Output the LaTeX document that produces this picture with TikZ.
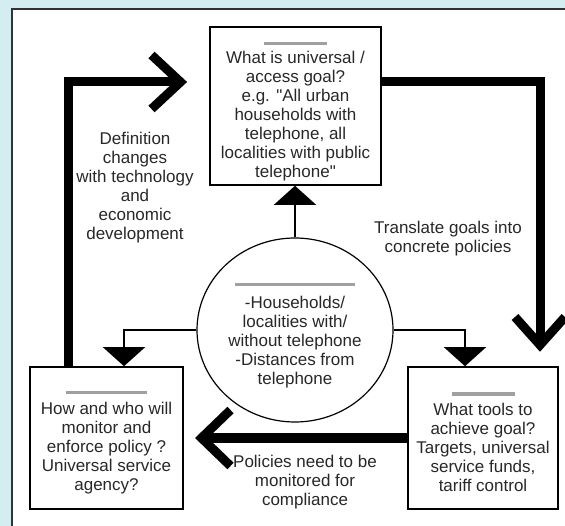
\documentclass[tikz,border=0pt]{standalone}
\usepackage{fontspec}
\setmainfont{Liberation Sans}[Ligatures=TeXOff]
\usetikzlibrary{arrows.meta,shapes.geometric,calc}
\definecolor{bgcyan}{RGB}{212,237,240}
\definecolor{barcol}{RGB}{160,160,160}
\definecolor{txt}{RGB}{40,40,40}
\newcommand{\gbar}[2]{\textcolor{barcol}{\rule{#1pt}{3.5pt}}\rule{0pt}{#2pt}}
\begin{document}
\begin{tikzpicture}[x=1pt,y=-1pt,
  box/.style={draw, line width=1.6pt, fill=white, align=center, inner sep=0pt,
    font=\fontsize{17}{19}\selectfont, text=txt},
  lbl/.style={align=center, inner sep=0pt, font=\fontsize{17}{19}\selectfont, text=txt},
  link/.style={line width=1.5pt, -{Triangle[width=42pt,length=19pt]}},
  heavy/.style={line width=9pt, line join=miter},
  chev/.style={line width=9pt, line join=miter, line cap=butt}]

\fill[bgcyan] (0,0) rectangle (565,526);
\useasboundingbox (0,0) rectangle (565,526);
\fill[white] (12,9) rectangle (565,526);
\draw[line width=2pt, black!80] (12,526) -- (12,9) -- (565,9);

% nodes
\node[box, minimum width=171pt, minimum height=158pt] (goal) at (295.5,106)
  {\gbar{63}{13.6}\\[-1pt] What is universal /\\ access goal?\\ e.g. "All urban\\ households with\\ telephone, all\\ localities with public\\ telephone"};

\node[box, ellipse, line width=1.2pt, minimum width=196pt, minimum height=184pt] (data) at (295,330)
  {\gbar{120}{13.6}\\[3pt] -Households/\\ localities with/\\ without telephone\\ -Distances from\\ telephone};

\node[box, minimum width=153pt, minimum height=142pt] (mon) at (106.5,438)
  {\gbar{81}{11.6}\\[1pt] How and who will\\ monitor and\\ enforce policy ?\\ Universal service\\ agency?};

\node[box, minimum width=150pt, minimum height=142pt] (tools) at (483,438)
  {\gbar{63}{11.6}\\[1pt] What tools to\\ achieve goal?\\ Targets, universal\\ service funds,\\ tariff control};

% thin connectors from the data circle
\draw[link] (data.north) -- (data.north |- goal.south);
\draw[link] (data.west) -| ([xshift=17.5pt]mon.north);
\draw[link] (data.east) -| ([xshift=-18pt]tools.north);

% heavy cycle arrows
\coordinate (ltip) at (180.5,82);
\draw[heavy] ([xshift=-38.5pt]mon.north) |- (ltip);
\draw[chev] ($(ltip)+(-29,-27)$) -- (ltip) -- ($(ltip)+(-29,27)$);

\coordinate (rtip) at (540,345);
\draw[heavy] ([yshift=24pt]goal.east) -| (rtip);
\draw[chev] ($(rtip)+(-25,-28)$) -- (rtip) -- ($(rtip)+(25,-28)$);

\coordinate (btip) at (201.5,438);
\draw[heavy] (tools.west) -- (btip);
\draw[chev] ($(btip)+(29,-28)$) -- (btip) -- ($(btip)+(29,28)$);

% labels
\node[lbl] (defn) at (135,188) {Definition\\ changes\\ with technology\\ and\\ economic\\ development};
\node[lbl] (transl) at (448,238.6) {Translate goals into\\ concrete policies};
\node[lbl] (monlbl) at (305,482.6) {Policies need to be\\ monitored for\\ compliance};
\end{tikzpicture}
\end{document}
